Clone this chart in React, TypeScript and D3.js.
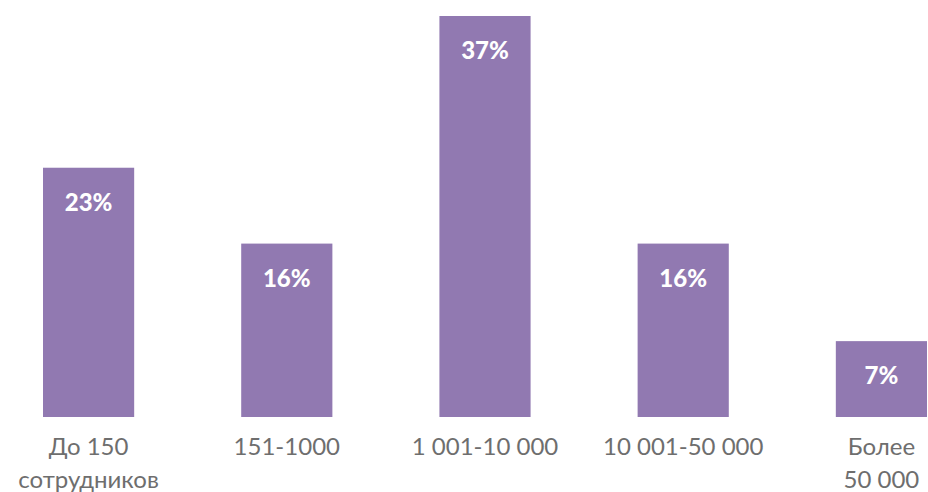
import React from "react";
import * as d3 from "d3";

const categories: string[][] = [
  ["До 150", "сотрудников"],
  ["151-1000"],
  ["1 001-10 000"],
  ["10 001-50 000"],
  ["Более", "50 000"],
];
const values: number[] = [23, 16, 37, 16, 7];
const valueLabels: string[] = ["23%", "16%", "37%", "16%", "7%"];

const W = 928;
const H = 492;
const BAR_COLOR = "#9179b1";
const TEXT_COLOR = "#6e6e6e";
const FONT = "Lato, 'Open Sans', sans-serif";

export default function App() {
  const ids = categories.map((_, i) => String(i));
  const x = d3.scaleBand<string>().domain(ids).range([43, 927]).paddingInner(0.54).paddingOuter(0);
  const y = d3.scaleLinear().domain([0, 37]).range([417, 16]);

  return (
    <svg
      width={W}
      height={H}
      viewBox={`0 0 ${W} ${H}`}
      style={{ position: "absolute", left: 0, top: 0, background: "#fff" }}
    >
      {values.map((v, i) => {
        const bx = x(ids[i])!;
        const bw = x.bandwidth();
        const top = y(v);
        return (
          <g key={i}>
            <rect x={bx} y={top} width={bw} height={y(0) - top} fill={BAR_COLOR} />
            <text
              x={bx + bw / 2}
              y={top + 43}
              textAnchor="middle"
              fill="#fff"
              fontFamily={FONT}
              fontWeight={900}
              fontSize={24}
            >
              {valueLabels[i]}
            </text>
            {categories[i].map((line, j) => (
              <text
                key={j}
                x={bx + bw / 2}
                y={455 + j * 33}
                textAnchor="middle"
                fill={TEXT_COLOR}
                fontFamily={FONT}
                fontSize={24}
              >
                {line}
              </text>
            ))}
          </g>
        );
      })}
    </svg>
  );
}
